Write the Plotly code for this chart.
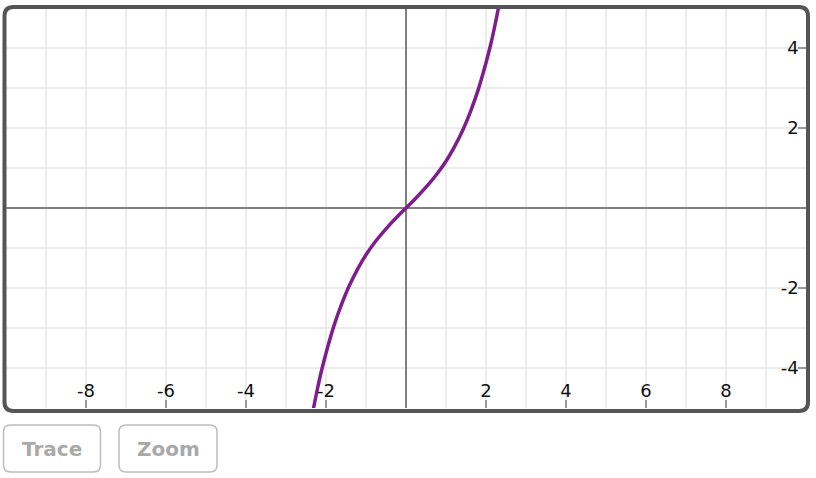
import plotly.graph_objects as go

# Curve points
curve_x = [-2.33, -2.22, -2.12, -2.0, -1.8, -1.6, -1.43, -1.2, -1.0, -0.75, -0.5, -0.25, 0.0,
           0.25, 0.5, 0.75, 1.0, 1.2, 1.43, 1.6, 1.8, 2.0, 2.12, 2.22, 2.33]
curve_y = [-5.1, -4.55, -4.1, -3.63, -2.94, -2.38, -1.97, -1.51, -1.17, -0.82, -0.52, -0.25, 0.0,
           0.25, 0.52, 0.82, 1.17, 1.51, 1.97, 2.38, 2.94, 3.63, 4.1, 4.55, 5.1]

x_tick_vals = [-8, -6, -4, -2, 2, 4, 6, 8]
x_tick_text = ["-8", "-6", "-4", "-2", "2", "4", "6", "8"]
y_tick_vals = [-4, -2, 2, 4]
y_tick_text = ["-4", "-2", "2", "4"]
x_range = [-10, 10]
y_range = [-5, 5]
buttons = ["Trace", "Zoom"]

W, H = 816, 478
L, R, T, B = 6, 10, 8, 70
PW, PH = W - L - R, H - T - B


def px_x(p):
    return (p - L) / PW


def px_y(p):
    return (T + PH - p) / PH


def rrect(x0p, y0p, x1p, y1p, r):
    x0, x1 = px_x(x0p), px_x(x1p)
    yt, yb = px_y(y0p), px_y(y1p)
    rx, ry = r / PW, r / PH
    return (f"M {x0+rx},{yt} L {x1-rx},{yt} Q {x1},{yt} {x1},{yt-ry} "
            f"L {x1},{yb+ry} Q {x1},{yb} {x1-rx},{yb} L {x0+rx},{yb} "
            f"Q {x0},{yb} {x0},{yb+ry} L {x0},{yt-ry} Q {x0},{yt} {x0+rx},{yt} Z")


fig = go.Figure()
fig.add_trace(go.Scatter(
    x=curve_x, y=curve_y, mode="lines",
    line=dict(color="#7D1E8C", width=3.5, shape="spline", smoothing=1.0),
    hoverinfo="skip", showlegend=False, cliponaxis=True,
))

axis_common = dict(
    showgrid=True, gridcolor="#ececec", gridwidth=1.5,
    zeroline=True, zerolinecolor="#808080", zerolinewidth=1.5,
    showline=False, ticks="inside", ticklen=8, tickwidth=1.5, tickcolor="#999999",
    ticklabelposition="inside", fixedrange=True,
    tickfont=dict(family="DejaVu Sans, sans-serif", size=18, color="#111111"),
    minor=dict(dtick=1, showgrid=True, gridcolor="#ececec", gridwidth=1.5, ticks=""),
    layer="above traces",
)

fig.update_xaxes(range=x_range, tickvals=x_tick_vals, ticktext=x_tick_text, side="bottom", **axis_common)
fig.update_yaxes(range=y_range, tickvals=y_tick_vals, ticktext=y_tick_text, side="right", **axis_common)

shapes = [
    dict(type="path", xref="paper", yref="paper", path=rrect(4.5, 7, 808, 411, 9),
         line=dict(color="#555555", width=4), layer="above"),
    dict(type="path", xref="paper", yref="paper", path=rrect(3.5, 425, 100.5, 472, 7),
         line=dict(color="#bdbdbd", width=1.5), layer="above"),
    dict(type="path", xref="paper", yref="paper", path=rrect(119, 425, 217, 472, 7),
         line=dict(color="#bdbdbd", width=1.5), layer="above"),
]

annotations = []
for label, cx in zip(buttons, [52, 168]):
    annotations.append(dict(
        text=label, xref="paper", yref="paper", x=px_x(cx), y=px_y(449),
        xanchor="center", yanchor="middle", showarrow=False,
        font=dict(family="DejaVu Sans, sans-serif", size=20, color="#a9a9a9", weight="bold"),
    ))

fig.update_layout(
    width=W, height=H,
    margin=dict(l=L, r=R, t=T, b=B),
    paper_bgcolor="white", plot_bgcolor="white",
    shapes=shapes, annotations=annotations,
    showlegend=False, hovermode=False,
)

fig.write_html(
    "out.html",
    config={"displayModeBar": False},
    post_script="document.body.style.margin='0';document.body.style.overflow='hidden';",
)
